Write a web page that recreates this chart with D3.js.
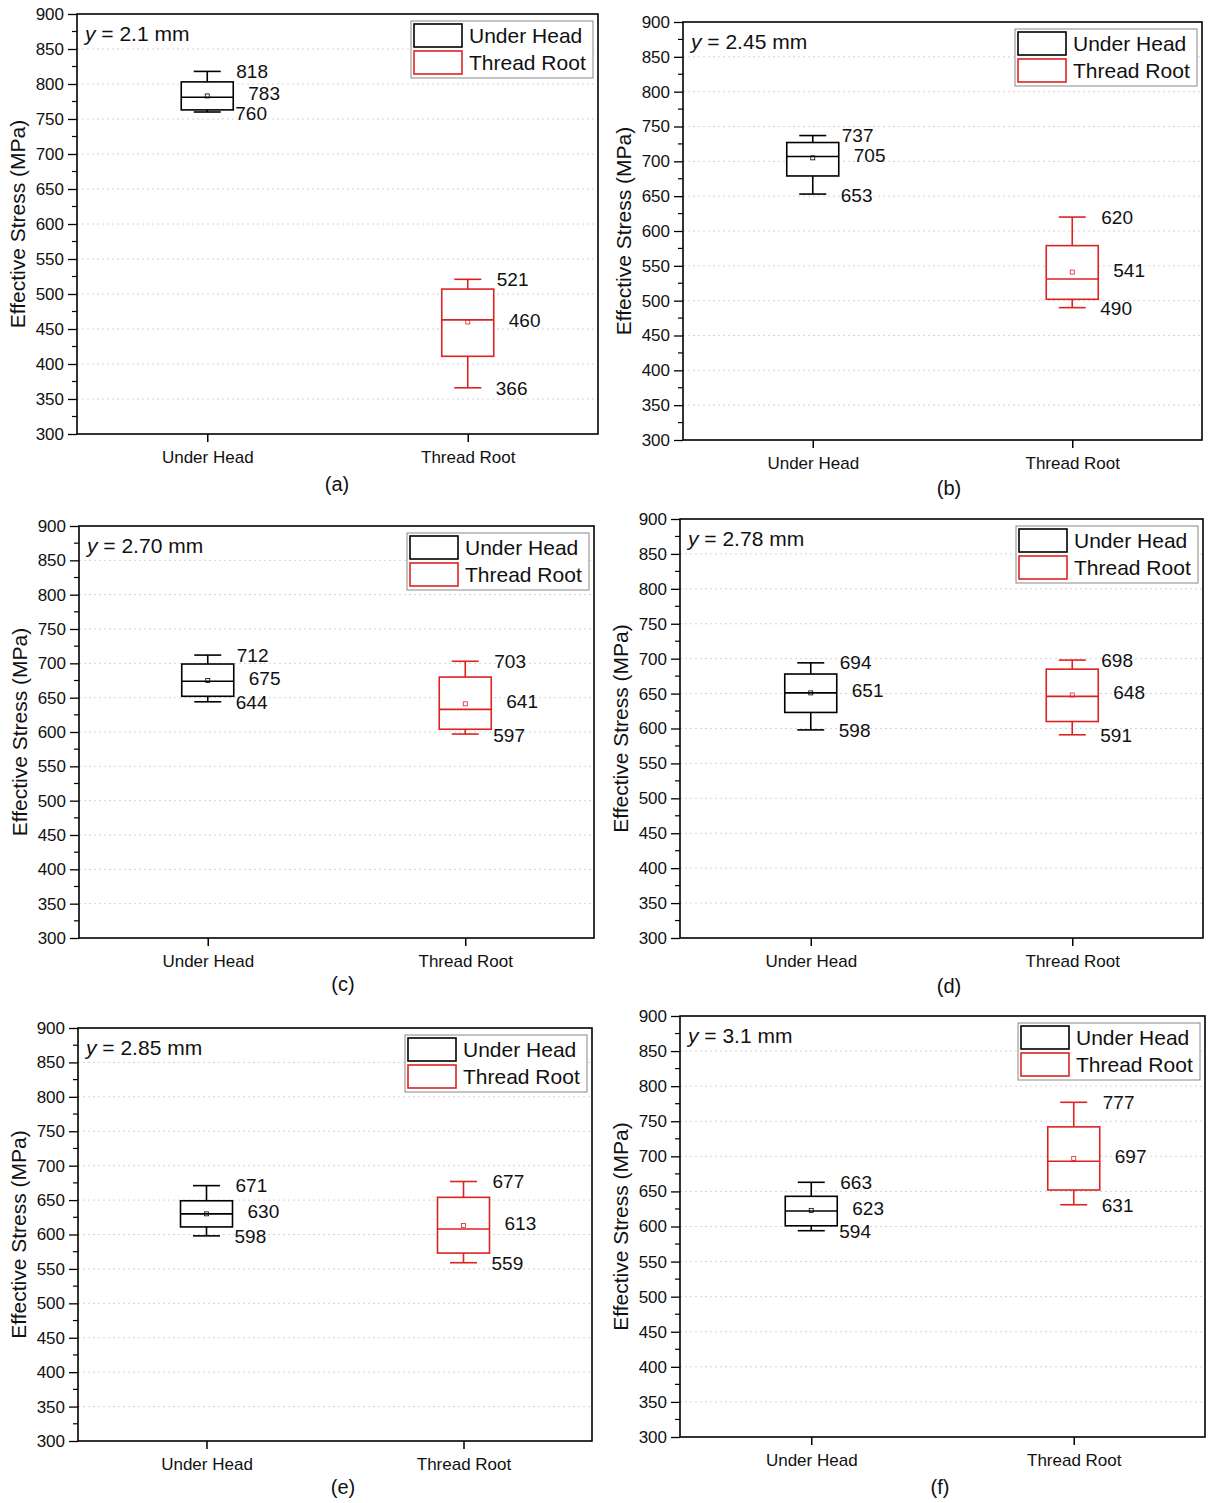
<!DOCTYPE html>
<html>
<head>
<meta charset="utf-8">
<script src="https://cdn.jsdelivr.net/npm/d3@7"></script>
<style>
  body { margin: 0; background: #fff; }
  svg { display: block; font-family: "Liberation Sans", Arial, sans-serif; }
</style>
</head>
<body>
<svg id="chart" width="1208" height="1503"></svg>
<script>
// data
const panelTags = ["(a)", "(b)", "(c)", "(d)", "(e)", "(f)"];
const depths = ["2.1", "2.45", "2.70", "2.78", "2.85", "3.1"];
const categories = ["Under Head", "Thread Root"];
const seriesColors = ["#000000", "#dd2222"];
// [under head, thread root] per panel
const maxVals    = [[818, 521], [737, 620], [712, 703], [694, 698], [671, 677], [663, 777]];
const q3Vals     = [[803, 507], [727, 579], [699, 680], [678, 685], [649, 654], [643, 742]];
const medianVals = [[781, 463], [707, 531], [674, 633], [651, 646], [630, 608], [622, 693]];
const meanVals   = [[783, 460], [705, 541], [675, 641], [651, 648], [630, 613], [623, 697]];
const q1Vals     = [[763, 411], [679, 502], [652, 604], [623, 610], [611, 573], [601, 652]];
const minVals    = [[760, 366], [653, 490], [644, 597], [598, 591], [598, 559], [594, 631]];
const yTicks = [300, 350, 400, 450, 500, 550, 600, 650, 700, 750, 800, 850, 900];
const yMinorTicks = [325, 375, 425, 475, 525, 575, 625, 675, 725, 775, 825, 875];

// plot frames of the six sub-figures (they are slightly misaligned in the original)
const frames = [
  {left: 77,  top: 14,   right: 598,  bottom: 434,  tagX: 337, tagY: 491},
  {left: 683, top: 22,   right: 1202, bottom: 440,  tagX: 949, tagY: 495},
  {left: 79,  top: 526,  right: 594,  bottom: 938,  tagX: 343, tagY: 991},
  {left: 680, top: 519,  right: 1203, bottom: 938,  tagX: 949, tagY: 993},
  {left: 78,  top: 1028, right: 592,  bottom: 1441, tagX: 343, tagY: 1494},
  {left: 680, top: 1016, right: 1205, bottom: 1437, tagX: 940, tagY: 1494}
];

const svg = d3.select("#chart");
const BOX_W = 52, CAP_W = 27;

frames.forEach((f, p) => {
  const g = svg.append("g").attr("class", "panel");
  const y = d3.scaleLinear().domain([300, 900]).range([f.bottom, f.top]);
  const x = d3.scalePoint().domain(categories).range([f.left, f.right]).padding(0.5);

  // dotted grid
  g.append("g").selectAll("line")
    .data(yTicks.slice(1, -1))
    .enter().append("line")
    .attr("x1", f.left).attr("x2", f.right)
    .attr("y1", d => y(d)).attr("y2", d => y(d))
    .attr("stroke", "#d4d4d4").attr("stroke-width", 1)
    .attr("stroke-dasharray", "2,3");

  // left axis with major + minor ticks
  const yAxis = g.append("g").attr("transform", `translate(${f.left},0)`)
    .call(d3.axisLeft(y).tickValues(yTicks).tickSize(9).tickPadding(4).tickFormat(d3.format("d")));
  yAxis.select(".domain").remove();
  yAxis.selectAll("text").attr("font-size", 17).attr("fill", "#111");
  yAxis.selectAll("line").attr("stroke-width", 1.3);
  g.append("g").selectAll("line")
    .data(yMinorTicks)
    .enter().append("line")
    .attr("x1", f.left - 5).attr("x2", f.left)
    .attr("y1", d => y(d)).attr("y2", d => y(d))
    .attr("stroke", "#000").attr("stroke-width", 1.2);

  // bottom axis
  const xAxis = g.append("g").attr("transform", `translate(0,${f.bottom})`)
    .call(d3.axisBottom(x).tickSize(8).tickPadding(9));
  xAxis.select(".domain").remove();
  xAxis.selectAll("text").attr("font-size", 17).attr("fill", "#111");
  xAxis.selectAll("line").attr("stroke-width", 1.5);

  // frame
  g.append("rect")
    .attr("x", f.left).attr("y", f.top)
    .attr("width", f.right - f.left).attr("height", f.bottom - f.top)
    .attr("fill", "none").attr("stroke", "#000").attr("stroke-width", 1.6);

  // axis title
  g.append("text")
    .attr("transform", `translate(${f.left - 58},${(f.top + f.bottom) / 2}) rotate(-90)`)
    .attr("text-anchor", "middle").attr("dominant-baseline", "middle")
    .attr("font-size", 21).attr("fill", "#111")
    .text("Effective Stress (MPa)");

  // depth label
  const dl = g.append("text")
    .attr("x", f.left + 8).attr("y", f.top + 27)
    .attr("font-size", 21).attr("fill", "#111");
  dl.append("tspan").attr("font-style", "italic").text("y");
  dl.append("tspan").text(` = ${depths[p]} mm`);

  // panel tag
  g.append("text")
    .attr("x", f.tagX).attr("y", f.tagY)
    .attr("text-anchor", "middle").attr("font-size", 20).attr("fill", "#111")
    .text(panelTags[p]);

  // boxes
  categories.forEach((c, i) => {
    const cx = x(c), col = seriesColors[i];
    const bg = g.append("g").attr("stroke", col).attr("stroke-width", 1.6).attr("fill", "none");
    bg.append("line").attr("x1", cx).attr("x2", cx)
      .attr("y1", y(maxVals[p][i])).attr("y2", y(q3Vals[p][i]));
    bg.append("line").attr("x1", cx).attr("x2", cx)
      .attr("y1", y(q1Vals[p][i])).attr("y2", y(minVals[p][i]));
    bg.append("line").attr("x1", cx - CAP_W / 2).attr("x2", cx + CAP_W / 2)
      .attr("y1", y(maxVals[p][i])).attr("y2", y(maxVals[p][i]));
    bg.append("line").attr("x1", cx - CAP_W / 2).attr("x2", cx + CAP_W / 2)
      .attr("y1", y(minVals[p][i])).attr("y2", y(minVals[p][i]));
    bg.append("rect").attr("x", cx - BOX_W / 2).attr("width", BOX_W)
      .attr("y", y(q3Vals[p][i])).attr("height", y(q1Vals[p][i]) - y(q3Vals[p][i]))
      .attr("fill", "#fff");
    bg.append("line").attr("x1", cx - BOX_W / 2).attr("x2", cx + BOX_W / 2)
      .attr("y1", y(medianVals[p][i])).attr("y2", y(medianVals[p][i]));
    bg.append("rect").attr("x", cx - 2).attr("y", y(meanVals[p][i]) - 2)
      .attr("width", 4).attr("height", 4).attr("stroke-width", 0.8);

    // value labels: max, mean, min
    const lx = cx + BOX_W / 2;
    const labels = [
      {v: maxVals[p][i], dx: 3, dy: 0},
      {v: meanVals[p][i], dx: 15, dy: -2},
      {v: minVals[p][i], dx: 2, dy: 1}
    ];
    g.append("g").selectAll("text")
      .data(labels)
      .enter().append("text")
      .attr("x", d => lx + d.dx).attr("y", d => y(d.v) + d.dy)
      .attr("dominant-baseline", "central")
      .attr("font-size", 19).attr("fill", "#111")
      .text(d => d.v);
  });

  // legend
  const lg = g.append("g").attr("transform", `translate(${f.right - 187},${f.top + 7})`);
  lg.append("rect").attr("width", 182).attr("height", 57)
    .attr("fill", "#fff").attr("stroke", "#888").attr("stroke-width", 1);
  categories.forEach((c, i) => {
    lg.append("rect").attr("x", 3).attr("y", 3 + i * 27)
      .attr("width", 48).attr("height", 23)
      .attr("fill", "#fff").attr("stroke", seriesColors[i]).attr("stroke-width", 1.6);
    lg.append("text").attr("x", 58).attr("y", 22 + i * 27)
      .attr("font-size", 21).attr("fill", "#111").text(c);
  });
});
</script>
</body>
</html>
